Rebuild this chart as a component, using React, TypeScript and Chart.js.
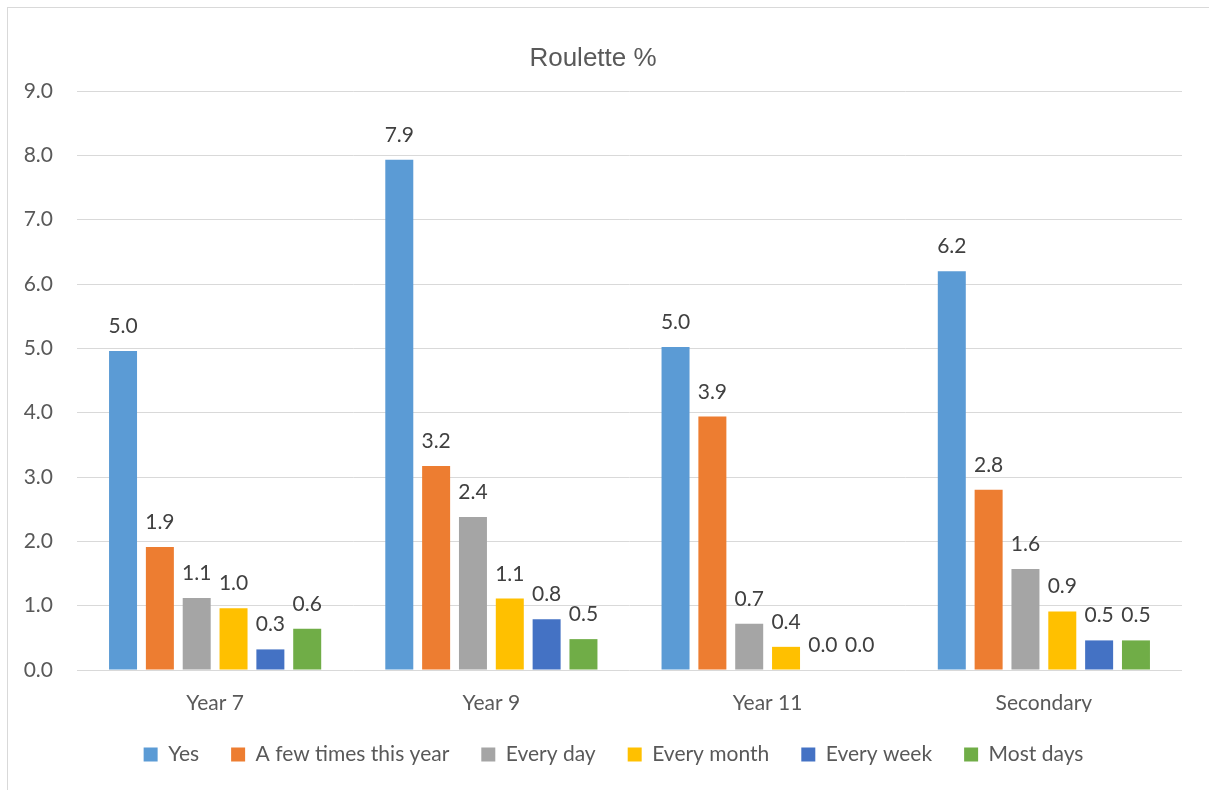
import React, { useEffect, useRef } from "react";
import { Chart, registerables } from "chart.js";

Chart.register(...registerables);

const categories = ["Year 7", "Year 9", "Year 11", "Secondary"];
const seriesNames = ["Yes", "A few times this year", "Every day", "Every month", "Every week", "Most days"];
const yes = [4.96, 7.93, 5.02, 6.2];
const fewTimes = [1.91, 3.17, 3.94, 2.8];
const everyDay = [1.12, 2.38, 0.72, 1.57];
const everyMonth = [0.96, 1.11, 0.36, 0.91];
const everyWeek = [0.32, 0.79, 0.0, 0.46];
const mostDays = [0.64, 0.48, 0.0, 0.46];
const seriesColors = ["#5B9BD5", "#ED7D31", "#A5A5A5", "#FFC000", "#4472C4", "#70AD47"];
const titleText = "Roulette %";
const yMin = 0;
const yMax = 9;
const yStep = 1;

const FONT = "Lato";

export default function App() {
  const ref = useRef<HTMLCanvasElement | null>(null);

  useEffect(() => {
    const canvas = ref.current;
    if (!canvas) return;
    const values = [yes, fewTimes, everyDay, everyMonth, everyWeek, mostDays];

    const framePlugin = {
      id: "frame",
      beforeDraw(chart: any) {
        const ctx = chart.ctx;
        ctx.save();
        ctx.fillStyle = "#ffffff";
        ctx.fillRect(0, 0, chart.width, chart.height);
        ctx.strokeStyle = "#d9d9d9";
        ctx.lineWidth = 1;
        ctx.strokeRect(7.5, 7.5, 1400, 1400);
        ctx.fillStyle = "#595959";
        ctx.font = `26px "Liberation Sans", Arial, sans-serif`;
        ctx.textAlign = "center";
        ctx.textBaseline = "alphabetic";
        ctx.fillText(titleText, 593, 66);
        ctx.restore();
      },
    };

    const labelPlugin = {
      id: "barLabels",
      afterDatasetsDraw(chart: any) {
        const ctx = chart.ctx;
        ctx.save();
        ctx.fillStyle = "#404040";
        ctx.font = `21px ${FONT}`;
        ctx.textAlign = "center";
        ctx.textBaseline = "alphabetic";
        chart.data.datasets.forEach((ds: any, i: number) => {
          const meta = chart.getDatasetMeta(i);
          meta.data.forEach((el: any, j: number) => {
            const v = ds.data[j] as number;
            ctx.fillText(v.toFixed(1), el.x, el.y - 18);
          });
        });
        ctx.restore();
      },
    };

    const chart = new Chart(canvas, {
      type: "bar",
      data: {
        labels: categories,
        datasets: seriesNames.map((name, i) => ({
          label: name,
          data: values[i],
          backgroundColor: seriesColors[i],
          borderWidth: 0,
          categoryPercentage: 0.8,
          barPercentage: 0.76,
          yAxisID: "y",
        })),
      },
      options: {
        responsive: false,
        animation: false,
        layout: { padding: { left: 18, right: 0, top: 91, bottom: 15 } },
        font: { family: FONT },
        plugins: {
          title: { display: false },
          tooltip: { enabled: false },
          legend: {
            position: "bottom",
            labels: {
              boxWidth: 14,
              boxHeight: 14,
              padding: 32,
              color: "#595959",
              font: { family: FONT, size: 21 },
            },
          },
        },
        scales: {
          x: {
            grid: { display: false },
            border: { display: false },
            ticks: { color: "#595959", font: { family: FONT, size: 21 }, padding: 13 },
            afterFit: (s: any) => {
              s.height = 42;
            },
          },
          y: {
            min: yMin,
            max: yMax,
            grid: { color: "#d9d9d9", lineWidth: 1, drawTicks: false },
            border: { display: false },
            ticks: {
              stepSize: yStep,
              padding: 24,
              color: "#595959",
              font: { family: FONT, size: 21 },
              callback: (v: any) => Number(v).toFixed(1),
            },
            afterFit: (s: any) => {
              s.width = 59;
            },
          },
          y2: {
            position: "right",
            display: true,
            grid: { display: false, drawTicks: false },
            border: { display: false },
            ticks: { display: false },
            afterFit: (s: any) => {
              s.width = 27;
            },
          },
        },
      },
      plugins: [framePlugin, labelPlugin],
    } as any);

    return () => chart.destroy();
  }, []);

  return (
    <div style={{ position: "absolute", left: 0, top: 0, width: 1209, height: 790, background: "#fff" }}>
      <canvas ref={ref} width={1209} height={790} style={{ width: 1209, height: 790, display: "block" }} />
    </div>
  );
}
